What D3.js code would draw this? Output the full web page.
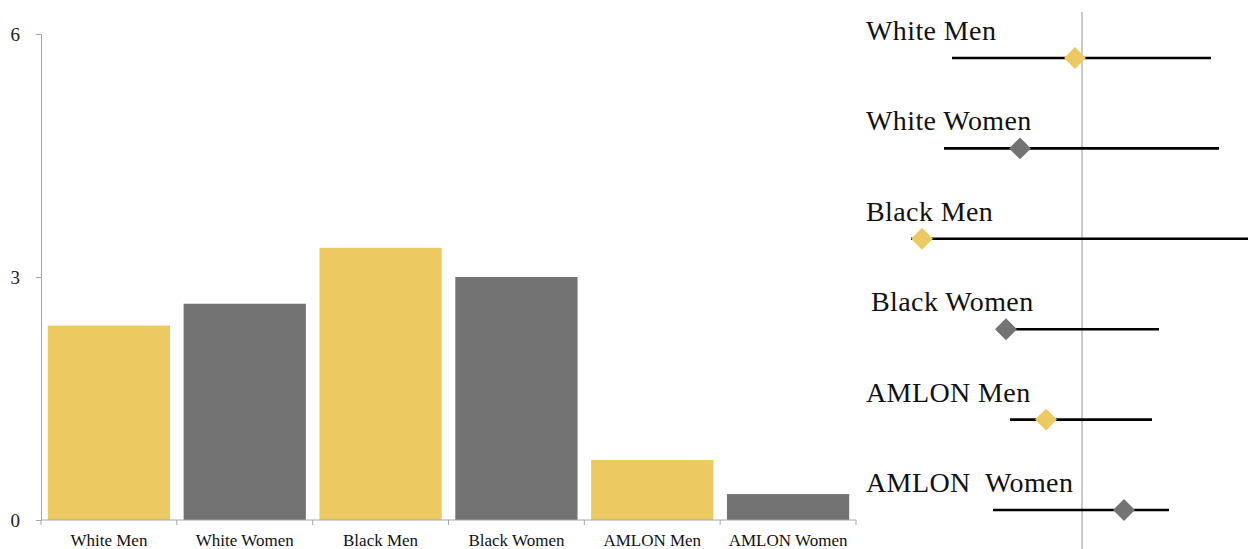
<!DOCTYPE html>
<html>
<head>
<meta charset="utf-8">
<script src="https://cdn.jsdelivr.net/npm/d3@7"></script>
<style>
    body { margin: 0; background: #fff; }
    svg { display: block; font-family: "Liberation Serif", "DejaVu Serif", serif; }
</style>
</head>
<body>
<svg id="chart" width="1248" height="549"></svg>
<script>
// bar chart data
const groups = ['White Men', 'White Women', 'Black Men', 'Black Women', 'AMLON Men', 'AMLON Women'];
const barValues = [2.40, 2.67, 3.36, 3.00, 0.74, 0.32];
const yTicks = [0, 3, 6];

// forest plot data (estimate and interval, reference line at 0)
const forestLabels = ['White Men', 'White Women', 'Black Men', 'Black Women', 'AMLON Men', 'AMLON  Women'];
const estimates = [-0.035, -0.31, -0.80, -0.38, -0.18, 0.21];
const lowers = [-0.65, -0.69, -0.855, -0.38, -0.36, -0.445];
const uppers = [0.645, 0.685, 0.95, 0.385, 0.35, 0.435];

const yellow = '#edc962';
const grey = '#737373';
const colors = groups.map((d, i) => i % 2 === 0 ? yellow : grey);

const svg = d3.select('#chart');

// ---- left: bar chart ----
const x = d3.scaleBand().domain(groups).range([41, 856]).paddingInner(0.1).paddingOuter(0.05);
const y = d3.scaleLinear().domain([0, 6]).range([520, 34]);

svg.selectAll('.bar')
    .data(barValues)
    .enter().append('rect')
    .attr('class', 'bar')
    .attr('x', (d, i) => x(groups[i]))
    .attr('y', d => y(d))
    .attr('width', x.bandwidth())
    .attr('height', d => y(0) - y(d))
    .attr('fill', (d, i) => colors[i]);

const yAxis = svg.append('g')
    .attr('transform', 'translate(41,0)')
    .call(d3.axisLeft(y).tickValues(yTicks).tickSize(5).tickPadding(16).tickFormat(d3.format('d')));
yAxis.select('.domain').attr('stroke', '#a6a6a6');
yAxis.selectAll('.tick line').attr('stroke', '#a6a6a6');
yAxis.selectAll('text')
    .attr('font-family', '"Liberation Serif", serif')
    .attr('font-size', '19px')
    .attr('fill', '#222');

// x axis: baseline with ticks at the category boundaries
const step = x.step();
const boundaries = d3.range(groups.length + 1).map(i => 41 + i * step);
svg.append('line')
    .attr('x1', 41).attr('x2', boundaries[boundaries.length - 1])
    .attr('y1', y(0)).attr('y2', y(0))
    .attr('stroke', '#a6a6a6');
svg.selectAll('.xtick')
    .data(boundaries)
    .enter().append('line')
    .attr('class', 'xtick')
    .attr('x1', d => d).attr('x2', d => d)
    .attr('y1', y(0)).attr('y2', y(0) + 5)
    .attr('stroke', '#a6a6a6');
svg.selectAll('.xlabel')
    .data(groups)
    .enter().append('text')
    .attr('class', 'xlabel')
    .attr('x', d => x(d) + x.bandwidth() / 2)
    .attr('y', 546)
    .attr('text-anchor', 'middle')
    .attr('font-size', '17px')
    .attr('fill', '#111')
    .text(d => d);

// ---- right: forest plot ----
const fx = d3.scaleLinear().domain([-1, 1]).range([882, 1282]);
const fy = d3.scalePoint().domain(d3.range(forestLabels.length)).range([58, 510]);

svg.append('line')
    .attr('x1', fx(0)).attr('x2', fx(0))
    .attr('y1', 12).attr('y2', 549)
    .attr('stroke', '#a6a6a6')
    .attr('stroke-width', 1.2);

const rows = svg.selectAll('.row')
    .data(forestLabels)
    .enter().append('g')
    .attr('class', 'row')
    .attr('transform', (d, i) => `translate(0,${fy(i)})`);

rows.append('text')
    .attr('x', (d, i) => i === 3 ? 871 : 866)
    .attr('y', -18)
    .attr('font-size', '28px')
    .attr('letter-spacing', '0.4px')
    .attr('fill', '#111')
    .style('white-space', 'pre')
    .text(d => d);

rows.append('line')
    .attr('x1', (d, i) => fx(lowers[i]))
    .attr('x2', (d, i) => fx(uppers[i]))
    .attr('stroke', '#000')
    .attr('stroke-width', 2.6);

rows.append('path')
    .attr('d', d3.symbol(d3.symbolSquare, 240)())
    .attr('transform', (d, i) => `translate(${fx(estimates[i])},0) rotate(45)`)
    .attr('fill', (d, i) => colors[i]);
</script>
</body>
</html>
